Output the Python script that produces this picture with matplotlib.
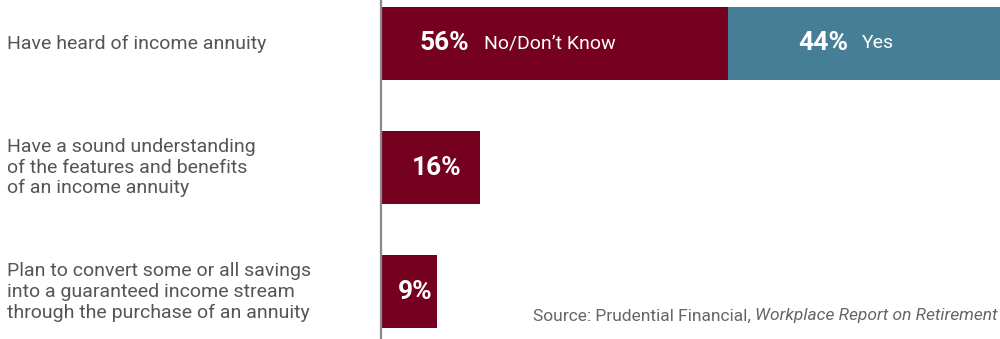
import matplotlib.pyplot as plt
import matplotlib.transforms as mtransforms
from matplotlib import font_manager

# data
categories = [
    "Have heard of income annuity",
    "Have a sound understanding\nof the features and benefits\nof an income annuity",
    "Plan to convert some or all savings\ninto a guaranteed income stream\nthrough the purchase of an annuity",
]
no_dont_know = [56, 16, 9]
yes = [44, 0, 0]
seg_labels = ["No/Don\u2019t Know", "Yes"]
source_plain = "Source: Prudential Financial, "
source_italic = "Workplace Report on Retirement"

RED = "#760020"
BLUE = "#467e96"
GRAY = "#555555"

names = {f.name for f in font_manager.fontManager.ttflist}
FONT = "Liberation Sans Narrow" if "Liberation Sans Narrow" in names else "Roboto"
plt.rcParams["font.family"] = [FONT, "DejaVu Sans"]

fig = plt.figure(figsize=(10, 3.39), dpi=100)
ax = fig.add_axes([0.381, 0, 0.619, 1])

ypos = list(range(len(categories)))
ax.barh(ypos, no_dont_know, height=0.59, color=RED, left=0)
ax.barh(ypos, yes, height=0.59, color=BLUE, left=no_dont_know)

ax.set_xlim(0, 100)
ax.set_ylim(2.38, -0.35)

for s in ["top", "right", "bottom"]:
    ax.spines[s].set_visible(False)
ax.spines["left"].set_color("#8a8a8a")
ax.spines["left"].set_linewidth(1.6)
ax.set_xticks([])
ax.set_yticks([])

# value labels
for i, (n, y) in enumerate(zip(no_dont_know, yes)):
    if y > 0:
        ax.annotate(f"{n}%", (0, i), xytext=(28, 0), textcoords="offset points",
                    color="white", fontsize=19, fontweight="bold", va="center", ha="left")
        ax.annotate(seg_labels[0], (0, i), xytext=(74, 0), textcoords="offset points",
                    color="white", fontsize=14, va="center", ha="left")
        ax.annotate(f"{y}%", (n, i), xytext=(51, 0), textcoords="offset points",
                    color="white", fontsize=19, fontweight="bold", va="center", ha="left")
        ax.annotate(seg_labels[1], (n, i), xytext=(97, 0), textcoords="offset points",
                    color="white", fontsize=14, va="center", ha="left")
    else:
        ax.text(n / 2 + 1, i, f"{n}%", color="white", fontsize=19,
                fontweight="bold", va="center", ha="center")

# category labels
trans = mtransforms.blended_transform_factory(fig.transFigure, ax.transData)
for i, c in enumerate(categories):
    ax.text(0.007, i, c, transform=trans, ha="left", va="center",
            fontsize=14, color=GRAY, linespacing=1.2, clip_on=False)

# source
t1 = fig.text(0.533, 0.068, source_plain, fontsize=12.5, color="#666666",
              ha="left", va="center")
fig.canvas.draw()
bb = t1.get_window_extent()
fig.text(bb.x1 / fig.bbox.width, 0.068, source_italic, fontsize=12.5,
         color="#666666", style="italic", ha="left", va="center")

fig.savefig("out.png", dpi=100)
